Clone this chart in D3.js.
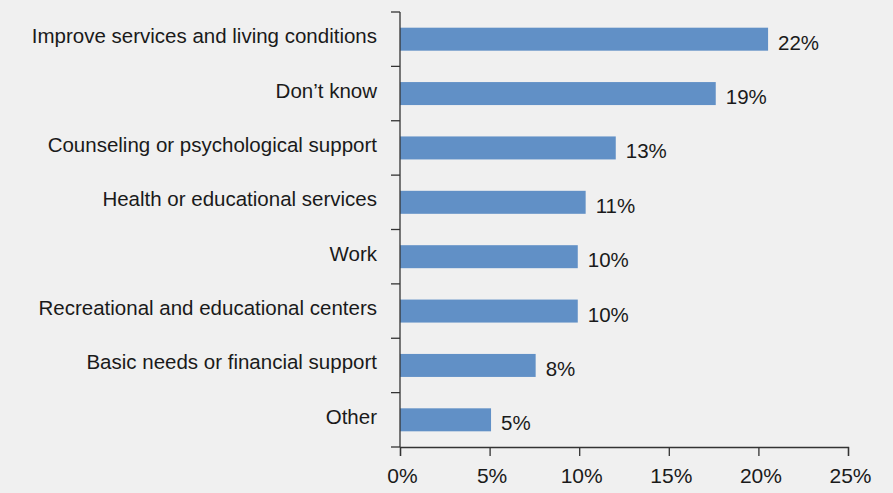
<!DOCTYPE html>
<html><head><meta charset="utf-8">
<script src="https://cdn.jsdelivr.net/npm/d3@7"></script>
<style>
html,body{margin:0;padding:0;background:#f0f0f0;}
svg{display:block;}
text{font-family:"Liberation Sans",Arial,Helvetica,sans-serif;fill:#1a1a1a;}
</style></head>
<body>
<svg id="chart" width="893" height="493"></svg>
<script>
const categories = ["Improve services and living conditions","Don’t know","Counseling or psychological support","Health or educational services","Work","Recreational and educational centers","Basic needs or financial support","Other"];
const values = [20.54, 17.62, 12.04, 10.36, 9.92, 9.92, 7.57, 5.08];
const valueLabels = ["22%","19%","13%","11%","10%","10%","8%","5%"];
const xTicks = [0,5,10,15,20,25];

const svg = d3.select("#chart");
svg.append("rect").attr("width",893).attr("height",493).attr("fill","#f0f0f0");

const x = d3.scaleLinear().domain([0,25]).range([400,848]);
const y = d3.scaleBand().domain(categories).range([12,447]).paddingInner(0).paddingOuter(0);
const barH = 23;

// bars
svg.selectAll("rect.bar").data(categories).enter().append("rect")
  .attr("class","bar")
  .attr("x", x(0))
  .attr("y", d => y(d) + y.bandwidth()/2 - barH/2)
  .attr("width", (d,i) => x(values[i]) - x(0))
  .attr("height", barH)
  .attr("fill","#6190c6");

// value labels
svg.selectAll("text.val").data(categories).enter().append("text")
  .attr("class","val")
  .attr("x", (d,i) => x(values[i]) + 10)
  .attr("y", d => y(d) + y.bandwidth()/2 + 10.5)
  .attr("font-size","20.5px")
  .text((d,i) => valueLabels[i]);

// category labels
svg.selectAll("text.cat").data(categories).enter().append("text")
  .attr("class","cat")
  .attr("x", 377)
  .attr("y", d => y(d) + y.bandwidth()/2 + 4)
  .attr("text-anchor","end")
  .attr("font-size","20.5px")
  .text(d => d);

// left axis line and ticks at band boundaries
const stroke = "#333";
svg.append("line").attr("x1",400).attr("x2",400).attr("y1",12).attr("y2",447)
  .attr("stroke",stroke).attr("stroke-width",1.3);
const bounds = categories.map(d => y(d)).concat([y.range()[1]]);
svg.selectAll("line.ytick").data(bounds).enter().append("line")
  .attr("class","ytick")
  .attr("x1",391).attr("x2",400)
  .attr("y1",d=>d).attr("y2",d=>d)
  .attr("stroke",stroke).attr("stroke-width",1.3);

// bottom axis
const xAxis = d3.axisBottom(x).tickValues(xTicks).tickFormat(d => d + "%").tickSize(9).tickPadding(12);
const gx = svg.append("g").attr("transform","translate(0,447)").call(xAxis);
gx.select(".domain").attr("stroke",stroke).attr("stroke-width",1.3);
gx.selectAll(".tick line").attr("stroke",stroke).attr("stroke-width",1.3);
gx.selectAll(".tick text").attr("font-size","21px").attr("fill","#1a1a1a")
  .attr("font-family","'Liberation Sans',Arial,sans-serif").attr("dx",2);
</script>
</body></html>
